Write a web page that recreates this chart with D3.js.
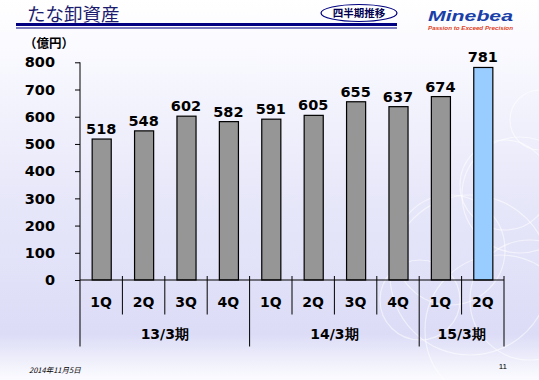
<!DOCTYPE html>
<html><head><meta charset="utf-8">
<script src="https://cdn.jsdelivr.net/npm/d3@7"></script>
<style>
html,body{margin:0;padding:0;background:#fff;}
svg{display:block;}
</style></head>
<body>
<script>
const quarters = ["1Q","2Q","3Q","4Q","1Q","2Q","3Q","4Q","1Q","2Q"];
const values = [518,548,602,582,591,605,655,637,674,781];
const barColors = ["#969696","#969696","#969696","#969696","#969696","#969696","#969696","#969696","#969696","#99ccff"];
const groupLabels = ["13/3期","14/3期","15/3期"];
const groupSizes = [4,4,2];
const yTicks = [0,100,200,300,400,500,600,700,800];

const W = 539, H = 380;
const svg = d3.select("body").append("svg").attr("width", W).attr("height", H);
const defs = svg.append("defs");
const g1 = defs.append("linearGradient").attr("id","bg").attr("x1",0).attr("y1",0).attr("x2",0).attr("y2",1);
g1.append("stop").attr("offset","0").attr("stop-color","#ffffff");
g1.append("stop").attr("offset","0.12").attr("stop-color","#fafaff");
g1.append("stop").attr("offset","0.5").attr("stop-color","#e8e8fa");
g1.append("stop").attr("offset","0.88").attr("stop-color","#dcdcf7");
g1.append("stop").attr("offset","0.96").attr("stop-color","#f2f2fc");
g1.append("stop").attr("offset","1").attr("stop-color","#fbfbff");
svg.append("rect").attr("width",W).attr("height",H).attr("fill","url(#bg)");

// decorative circles
const deco = svg.append("g").attr("fill","none").attr("stroke","#ffffff").attr("stroke-opacity",0.55).attr("stroke-width",1.2);
[[505,185,45],[520,195,58],[450,250,55],[470,275,80],[530,300,60],[500,330,75],[420,300,40],[540,120,30]].forEach(c=>{
  deco.append("circle").attr("cx",c[0]).attr("cy",c[1]).attr("r",c[2]);
});

// header
svg.append("text").attr("x",27).attr("y",21).attr("font-family","'Noto Sans CJK JP'").attr("font-size",18.5)
  .attr("fill","#1c1c6e").text("たな卸資産");
svg.append("rect").attr("x",16).attr("y",23).attr("width",381).attr("height",3).attr("fill","#000080");
svg.append("rect").attr("x",16).attr("y",27.5).attr("width",381).attr("height",1).attr("fill","#000080");
svg.append("ellipse").attr("cx",359).attr("cy",13).attr("rx",38).attr("ry",8.5).attr("fill","#ffffff").attr("stroke","#000080").attr("stroke-width",1.2);
svg.append("text").attr("x",359).attr("y",17).attr("text-anchor","middle").attr("font-family","'Noto Sans CJK JP'")
  .attr("font-weight","bold").attr("font-size",10.5).attr("fill","#000050").text("四半期推移");
svg.append("text").attr("x",428).attr("y",21).attr("font-family","'Liberation Sans'").attr("font-style","italic")
  .attr("font-weight","bold").attr("font-size",14).attr("fill","#1a3fa8").attr("textLength",85).attr("lengthAdjust","spacingAndGlyphs").text("Minebea");
svg.append("text").attr("x",428).attr("y",29.5).attr("font-family","'Liberation Sans'").attr("font-style","italic")
  .attr("font-weight","bold").attr("font-size",5.8).attr("fill","#e0401c").attr("textLength",85).attr("lengthAdjust","spacingAndGlyphs").text("Passion to Exceed Precision");

// chart
const x0 = 80, x1 = 504, yTop = 62.3, yBot = 280;
const x = d3.scaleBand().domain(d3.range(values.length)).range([x0,x1]).padding(0);
const y = d3.scaleLinear().domain([0,800]).range([yBot,yTop]);
const font = "'DejaVu Sans', Verdana, sans-serif";

svg.append("text").attr("x",24).attr("y",48).attr("font-family","'Noto Sans CJK JP'").attr("font-weight","bold")
  .attr("font-size",12.5).attr("fill","#000").text("（億円）");

const yAxis = d3.axisLeft(y).tickValues(yTicks).tickSize(5).tickPadding(20).tickFormat(d3.format("d"));
const ya = svg.append("g").attr("transform",`translate(${x0},0)`).call(yAxis);
ya.select(".domain").remove();
ya.selectAll(".tick line").attr("stroke","#000");
ya.selectAll(".tick text").attr("font-family",font).attr("font-weight","bold").attr("font-size",14.5).attr("fill","#000");
svg.append("line").attr("x1",x0).attr("x2",x0).attr("y1",yTop).attr("y2",yBot).attr("stroke","#000");

const bw = x.bandwidth()*0.45;
svg.append("g").selectAll("rect").data(values).join("rect")
  .attr("x",(d,i)=>x(i)+x.bandwidth()/2-bw/2+0.5).attr("width",bw)
  .attr("y",d=>y(d)).attr("height",d=>yBot-y(d))
  .attr("fill",(d,i)=>barColors[i]).attr("stroke","#000").attr("stroke-width",1.2);

svg.append("g").selectAll("text").data(values).join("text")
  .attr("x",(d,i)=>x(i)+x.bandwidth()/2).attr("y",d=>y(d)-5)
  .attr("text-anchor","middle").attr("font-family",font).attr("font-weight","bold").attr("font-size",14.5)
  .attr("fill","#000").text(d=>d);

// x axis
svg.append("line").attr("x1",x0).attr("x2",x1).attr("y1",yBot).attr("y2",yBot).attr("stroke","#000");
svg.append("g").selectAll("text").data(quarters).join("text")
  .attr("x",(d,i)=>x(i)+x.bandwidth()/2).attr("y",307)
  .attr("text-anchor","middle").attr("font-family",font).attr("font-weight","bold").attr("font-size",14)
  .attr("fill","#000").text(d=>d);

// separators
const groupStarts = [];
let acc = 0;
groupSizes.forEach(n=>{groupStarts.push(acc); acc+=n;});
const groupBounds = groupStarts.concat([values.length]);
for (let i=0;i<=values.length;i++){
  const xx = i<values.length ? x(i) : x1;
  const isGroup = groupBounds.includes(i);
  svg.append("line").attr("x1",xx).attr("x2",xx).attr("y1", i===0 ? yBot : 276).attr("y2", isGroup ? 346.5 : 314.5)
    .attr("stroke","#000").attr("stroke-width",1);
}
svg.append("g").selectAll("text").data(groupLabels).join("text")
  .attr("x",(d,i)=>{
    const a = x(groupStarts[i]);
    const e = groupStarts[i]+groupSizes[i] < values.length ? x(groupStarts[i]+groupSizes[i]) : x1;
    return (a+e)/2;
  }).attr("y",338.5)
  .attr("text-anchor","middle").attr("font-family",font).attr("font-weight","bold").attr("font-size",14)
  .attr("fill","#000").text(d=>d);

// footer
svg.append("text").attr("x",29).attr("y",373).attr("font-family","'Noto Sans CJK JP'").attr("font-style","italic")
  .attr("font-size",7.5).attr("fill","#000").text("2014年11月5日");
svg.append("text").attr("x",507).attr("y",369).attr("text-anchor","end").attr("font-family","'Liberation Sans'")
  .attr("font-size",8).attr("fill","#000").text("11");
</script>
</body></html>
